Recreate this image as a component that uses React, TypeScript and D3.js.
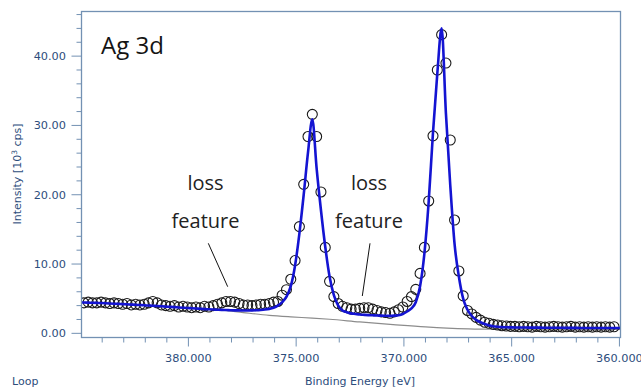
import React from "react";
import * as d3 from "d3";

const energies = [
  384.85, 384.65, 384.45, 384.25, 384.05, 383.85, 383.65, 383.45, 383.25, 383.05,
  382.85, 382.65, 382.45, 382.25, 382.05, 381.85, 381.65, 381.45, 381.25, 381.05,
  380.85, 380.65, 380.45, 380.25, 380.05, 379.85, 379.65, 379.45, 379.25, 379.05,
  378.85, 378.65, 378.45, 378.25, 378.05, 377.85, 377.65, 377.45, 377.25, 377.05,
  376.85, 376.65, 376.45, 376.25, 376.05, 375.85, 375.65, 375.45, 375.25, 375.05,
  374.85, 374.65, 374.45, 374.25, 374.05, 373.85, 373.65, 373.45, 373.25, 373.05,
  372.85, 372.65, 372.45, 372.25, 372.05, 371.85, 371.65, 371.45, 371.25, 371.05,
  370.85, 370.65, 370.45, 370.25, 370.05, 369.85, 369.65, 369.45, 369.25, 369.05,
  368.85, 368.65, 368.45, 368.25, 368.05, 367.85, 367.65, 367.45, 367.25, 367.05,
  366.85, 366.65, 366.45, 366.25, 366.05, 365.85, 365.65, 365.45, 365.25, 365.05,
  364.85, 364.65, 364.45, 364.25, 364.05, 363.85, 363.65, 363.45, 363.25, 363.05,
  362.85, 362.65, 362.45, 362.25, 362.05, 361.85, 361.65, 361.45, 361.25, 361.05,
  360.85, 360.65, 360.45, 360.25,
];

const measured = [
  4.4, 4.5, 4.4, 4.4, 4.5, 4.4, 4.3, 4.4, 4.3, 4.2,
  4.3, 4.1, 4.2, 4.1, 4.2, 4.4, 4.6, 4.4, 4.1, 4.0,
  3.9, 4.0, 3.8, 3.9, 3.8, 3.7, 3.8, 3.7, 3.9, 3.8,
  4.0, 4.2, 4.4, 4.6, 4.6, 4.5, 4.3, 4.1, 4.1, 4.0,
  4.1, 4.2, 4.2, 4.3, 4.5, 4.6, 5.5, 6.3, 7.8, 10.5,
  15.4, 21.5, 28.4, 31.6, 28.4, 20.4, 12.4, 7.5, 5.3, 4.3,
  3.9, 3.7, 3.5, 3.5, 3.6, 3.7, 3.7, 3.5, 3.3, 3.1,
  3.0, 2.9, 3.1, 3.4, 3.8, 4.6, 5.3, 6.35, 8.65, 12.4,
  19.1, 28.5, 38.0, 43.1, 39.0, 27.9, 16.35, 9.0, 5.4, 3.3,
  2.8, 2.3, 1.9, 1.6, 1.45, 1.3, 1.2, 1.1, 1.05, 1.0,
  1.0, 0.95, 1.0, 0.95, 0.9, 1.0, 0.95, 0.9, 0.95, 1.0,
  0.95, 0.9, 0.95, 1.0, 0.9, 0.95, 0.9, 0.95, 0.9, 0.95,
  0.9, 0.95, 0.9, 0.95,
];

const fitEnergies = [385.0, ...energies, 359.95];
const fitValues = [
  4.46,
  4.45, 4.43, 4.41, 4.39, 4.37, 4.34, 4.31, 4.28, 4.25, 4.22,
  4.19, 4.15, 4.12, 4.08, 4.05, 4.01, 3.98, 3.94, 3.9, 3.86,
  3.82, 3.78, 3.74, 3.7, 3.66, 3.62, 3.58, 3.54, 3.5, 3.47,
  3.44, 3.41, 3.38, 3.36, 3.34, 3.32, 3.31, 3.3, 3.3, 3.31,
  3.33, 3.37, 3.43, 3.53, 3.7, 4.0, 4.5, 5.3, 6.8, 9.8,
  14.4, 20.0, 26.1, 30.9, 23.8, 17.8, 12.5, 8.2, 5.5, 4.0,
  3.3, 3.05, 2.88, 2.8, 2.72, 2.67, 2.63, 2.6, 2.57, 2.55,
  2.53, 2.52, 2.55, 2.62, 2.8, 3.15, 3.6, 4.5, 6.8, 11.5,
  19.0, 29.0, 37.5, 44.0, 31.7, 21.4, 12.9, 8.2, 5.0, 3.4,
  2.5, 1.95, 1.6, 1.35, 1.15, 1.02, 0.95, 0.9, 0.88, 0.86,
  0.85, 0.84, 0.84, 0.83, 0.83, 0.82, 0.82, 0.81, 0.81, 0.8,
  0.8, 0.8, 0.79, 0.79, 0.79, 0.78, 0.78, 0.78, 0.78, 0.77,
  0.77, 0.77, 0.77, 0.77,
  0.77,
];

const bgEnergies = [385.0, 383.85, 382.85, 381.85, 380.85, 379.85, 378.85, 378.45, 377.45, 376.25, 375.25, 374.25, 373.45, 372.05, 370.5, 369.0, 368.0, 367.0, 366.0, 359.95];
const bgValues = [4.46, 4.34, 4.19, 4.01, 3.82, 3.62, 3.44, 3.36, 3.0, 2.6, 2.38, 2.2, 2.03, 1.65, 1.27, 0.93, 0.76, 0.65, 0.6, 0.58];

const xMajorTicks = [380, 375, 370, 365, 360];
const xMajorLabels = ["380.000", "375.000", "370.000", "365.000", "360.000"];
const xMinorTicks = [384, 383, 382, 381, 379, 378, 377, 376, 374, 373, 372, 371, 369, 368, 367, 366, 364, 363, 362, 361];
const yMajorTicks = [0, 10, 20, 30, 40];
const yMajorLabels = ["0.00", "10.00", "20.00", "30.00", "40.00"];
const yMinorTicks = [2, 4, 6, 8, 12, 14, 16, 18, 22, 24, 26, 28, 32, 34, 36, 38, 42, 44, 46];

const annotations = [
  { line1: "loss", line2: "feature", cx: 205.5, from: [208.3, 243.3], to: [227.7, 286.7] },
  { line1: "loss", line2: "feature", cx: 369, from: [370, 243.3], to: [362.3, 296] },
];

const W = 641;
const H = 389;
const L = 81.5, R = 620.5, T = 11.5, B = 337.5;
const axisColor = "#7391b3";
const textColor = "#2d4d7c";
const tickFont = "'DejaVu Sans', Verdana, sans-serif";

export default function App() {
  const x = d3.scaleLinear().domain([384.96, 359.95]).range([L, R]);
  const y = d3.scaleLinear().domain([-0.6, 46.44]).range([B, T]);

  const fitLine = d3
    .line<number>()
    .x((_, i) => x(fitEnergies[i]))
    .y((d) => y(d))
    .curve(d3.curveMonotoneX)(fitValues) as string;

  const bgLine = d3
    .line<number>()
    .x((_, i) => x(bgEnergies[i]))
    .y((d) => y(d))
    .curve(d3.curveMonotoneX)(bgValues) as string;

  return (
    <svg width={W} height={H} style={{ position: "absolute", left: 0, top: 0, background: "#fff" }}>
      <defs>
        <clipPath id="plotClip">
          <rect x={L} y={T} width={R - L} height={B - T} />
        </clipPath>
      </defs>
      <rect x={0} y={0} width={W} height={H} fill="#fff" />

      <g clipPath="url(#plotClip)">
        <path d={bgLine} fill="none" stroke="#8c8c8c" strokeWidth={1.2} />
        {measured.map((v, i) => (
          <circle key={i} cx={x(energies[i])} cy={y(v)} r={5} fill="none" stroke="#1a1a1a" strokeWidth={1.1} />
        ))}
        <path d={fitLine} fill="none" stroke="#1414d2" strokeWidth={2.6} strokeLinejoin="round" />
      </g>

      {/* frame */}
      <rect x={L} y={T} width={R - L} height={B - T} fill="none" stroke={axisColor} strokeWidth={1.3} />

      {/* y ticks */}
      {yMinorTicks.map((t) => (
        <line key={"ym" + t} x1={L - 5} x2={L} y1={y(t)} y2={y(t)} stroke={axisColor} strokeWidth={1} />
      ))}
      {yMajorTicks.map((t, i) => (
        <g key={"yM" + t}>
          <line x1={L - 10} x2={L} y1={y(t)} y2={y(t)} stroke={axisColor} strokeWidth={1} />
          <text x={66} y={y(t) + 4} textAnchor="end" fontFamily={tickFont} fontSize={11.3} fill={textColor}>
            {yMajorLabels[i]}
          </text>
        </g>
      ))}

      {/* x ticks */}
      {xMinorTicks.map((t) => (
        <line key={"xm" + t} x1={x(t)} x2={x(t)} y1={B} y2={B + 5} stroke={axisColor} strokeWidth={1} />
      ))}
      {xMajorTicks.map((t, i) => (
        <g key={"xM" + t}>
          <line x1={x(t)} x2={x(t)} y1={B} y2={B + 9} stroke={axisColor} strokeWidth={1} />
          <text x={x(t)} y={361.5} textAnchor="middle" fontFamily={tickFont} fontSize={11.3} fill={textColor}>
            {xMajorLabels[i]}
          </text>
        </g>
      ))}

      {/* axis titles */}
      <text transform="translate(21,174) rotate(-90)" textAnchor="middle" fontFamily={tickFont} fontSize={11} fill={textColor}>
        Intensity [10
        <tspan fontSize={7.5} dy={-4}>3</tspan>
        <tspan dy={4}> cps]</tspan>
      </text>
      <text x={360} y={385} textAnchor="middle" fontFamily={tickFont} fontSize={11} fill={textColor}>
        Binding Energy [eV]
      </text>
      <text x={12} y={385} fontFamily={tickFont} fontSize={11} fill={textColor}>
        Loop
      </text>

      {/* in-plot labels */}
      <text x={101} y={53.5} fontFamily="'Open Sans', sans-serif" fontSize={24} fill="#141414">
        Ag 3d
      </text>
      {annotations.map((a, i) => (
        <g key={"ann" + i}>
          <text x={a.cx} y={190.3} textAnchor="middle" fontFamily="'Open Sans', sans-serif" fontSize={20} fill="#222">
            {a.line1}
          </text>
          <text x={a.cx} y={227.5} textAnchor="middle" fontFamily="'Open Sans', sans-serif" fontSize={20} fill="#222">
            {a.line2}
          </text>
          <line x1={a.from[0]} y1={a.from[1]} x2={a.to[0]} y2={a.to[1]} stroke="#111" strokeWidth={1} />
        </g>
      ))}
    </svg>
  );
}
